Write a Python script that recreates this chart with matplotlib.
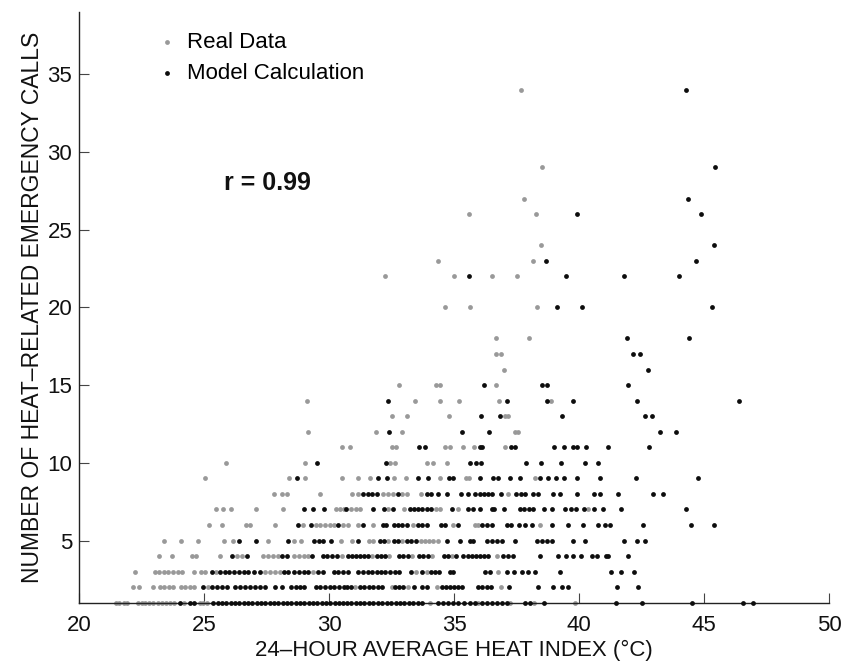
import matplotlib
matplotlib.use("Agg")
import matplotlib.pyplot as plt

plt.rcParams['font.family'] = ['Liberation Sans', 'DejaVu Sans']

# ---------------- data: heat index (x) for each call count (y) ----------------
# Real data (gray)
real_c1 = [21.48, 21.59, 21.80, 21.91, 22.36, 22.50, 22.63, 22.79, 22.96, 23.14, 23.30, 23.46,
           23.63, 23.80, 24.20, 24.83, 24.96, 25.10, 34.03, 35.94, 37.23, 38.21, 39.84]
real_c2 = [22.14, 22.40, 22.96, 23.23, 23.40, 23.59, 23.76, 24.07, 24.23, 24.42, 24.60, 25.14,
           31.03, 32.50, 33.17, 34.30, 36.87]
real_c3 = [22.23, 23.03, 23.20, 23.39, 23.56, 23.75, 23.94, 24.12, 24.60, 24.87, 25.03, 25.46,
           27.43, 27.63, 27.83, 28.03, 29.36, 33.46, 33.90, 36.74]
real_c4 = [23.19, 23.71, 24.50, 24.67, 25.63, 26.30, 26.50, 27.36, 27.56, 27.76, 27.94, 28.60,
           28.79, 28.98, 29.17, 30.50, 31.73, 32.39, 33.30, 34.13, 34.93, 36.70]
real_c5 = [23.40, 24.07, 24.76, 25.80, 26.14, 27.55, 28.59, 28.87, 30.47, 30.93, 31.59, 31.77,
           32.34, 32.90, 33.67, 33.83, 33.99, 34.17, 34.37]
real_c6 = [25.18, 25.72, 26.66, 26.82, 27.82, 28.96, 29.46, 29.65, 29.83, 30.02, 30.21, 30.57,
           30.77, 31.14, 31.77, 33.37, 34.97, 35.83, 35.97, 38.44]
real_c7 = [25.46, 25.74, 26.06, 27.06, 28.16, 30.26, 30.43, 30.61, 30.87, 31.06, 31.23, 32.37,
           33.01, 34.26, 34.43, 35.17, 40.37]
real_c8 = [27.79, 28.10, 28.32, 29.65, 30.90, 31.14, 32.17, 32.37, 32.57, 32.93, 33.10, 33.67, 37.17]
real_c9 = [25.05, 28.38, 29.05, 30.50, 31.15, 31.64, 32.60, 33.07, 34.45, 35.49, 35.60, 38.23]
real_c10 = [25.88, 29.05, 32.45, 32.62, 33.91, 34.17, 34.72]
real_c11 = [30.52, 30.85, 32.50, 32.69, 34.64, 34.83, 35.35, 35.79, 37.03]
real_c12 = [29.16, 31.86, 32.92, 37.42, 37.55]
real_c13 = [32.52, 33.10, 34.79, 37.04, 37.16]
real_c14 = [29.13, 33.42, 34.42, 35.21, 36.78, 38.86]
real_c15 = [32.81, 34.29, 34.42, 36.67]
real_c16 = [37.01]
real_c17 = [36.68, 36.89]
real_c18 = [36.66, 37.99]
real_c20 = [34.65, 35.62, 38.33]
real_c22 = [32.22, 34.98, 36.51, 37.52]
real_c23 = [34.37, 38.17]
real_c24 = [38.46]
real_c26 = [35.59, 38.28]
real_c27 = [37.81]
real_c29 = [38.50]
real_c34 = [37.67]

# Model calculation (black)
model_c1 = [24.03, 24.43, 24.60,
            25.36, 25.54, 25.71, 25.88, 26.06, 26.23, 26.40, 26.58, 26.75, 26.92, 27.10, 27.27,
            27.44, 27.62, 27.79, 27.96, 28.14, 28.31, 28.48, 28.66, 28.83, 29.00, 29.18, 29.35,
            29.52, 29.70, 29.87, 30.05, 30.22, 30.39, 30.57,
            30.70, 30.87, 31.06, 31.23, 31.41, 31.59, 31.77, 31.94, 32.13, 32.30, 32.47, 32.66,
            32.83, 33.01, 33.19, 33.37, 33.54, 33.73,
            34.34, 34.57, 34.74, 34.97, 35.17, 35.41, 35.63, 35.83, 36.10, 36.30, 36.50, 36.70,
            36.90, 37.10, 37.84, 38.03, 38.61, 41.48, 42.53, 44.50, 46.57, 46.97]
model_c2 = [24.96, 25.32, 25.51, 25.70, 25.90, 26.23, 26.43, 26.63, 26.83, 27.03, 27.23, 27.43,
            27.83, 28.10, 28.47, 28.66, 28.83, 29.00, 29.46, 29.65, 29.83, 30.02, 30.21, 30.39,
            30.58, 30.70, 30.87, 31.23, 31.41, 31.59, 31.77, 31.94, 32.13, 32.63, 32.79, 32.97,
            33.41, 33.70, 33.90, 34.50, 34.66, 34.83, 35.01, 35.17, 35.33, 35.97, 36.13, 36.30,
            36.48, 37.19, 38.37, 38.97, 39.30, 39.54, 41.50, 42.37]
model_c3 = [25.30, 25.63, 25.83, 26.00, 26.20, 26.39, 26.58, 26.76, 26.99, 27.23, 28.18, 28.36,
            28.60, 28.79, 28.98, 29.17, 29.56, 29.77, 30.18, 30.37, 30.57, 30.77, 31.17, 31.37,
            31.54, 31.70, 31.90, 32.07, 32.23, 32.43, 32.63, 32.79, 33.27, 33.73, 34.07, 34.23,
            34.39, 34.83, 34.97, 36.23, 36.43, 37.10, 37.41, 37.70, 37.94, 38.24, 39.24, 41.28,
            41.66, 42.18]
model_c4 = [26.10, 26.72, 28.10, 28.30, 29.33, 29.74, 29.93, 30.11, 30.30, 30.74, 30.90, 31.06,
            31.22, 31.38, 31.54, 31.90, 32.07, 32.23, 32.79, 32.97, 33.14, 33.59, 33.77, 33.94,
            34.61, 34.77, 35.06, 35.37, 35.54, 35.70, 35.86, 36.03, 36.21, 36.37, 36.97, 37.17,
            37.37, 38.44, 39.17, 39.46, 39.77, 40.08, 40.53, 40.70, 41.08, 41.17, 41.97]
model_c5 = [26.39, 27.08, 28.36, 29.39, 29.59, 29.77, 30.06, 31.14, 32.03, 32.21, 32.61, 32.77,
            33.10, 33.27, 33.46, 34.70, 35.23, 35.63, 35.77, 36.30, 36.50, 36.70, 36.90, 37.43,
            38.30, 38.50, 38.70, 38.90, 39.74, 40.24, 41.80, 42.30, 42.64]
model_c6 = [28.76, 29.27, 30.37, 31.37, 32.17, 32.26, 32.61, 32.77, 32.93, 33.10, 33.54, 33.73,
            33.90, 34.47, 34.63, 35.14, 36.13, 36.30, 36.50, 37.10, 37.27, 37.60, 37.83, 38.13,
            38.90, 39.54, 40.17, 40.77, 41.04, 41.24, 42.57, 44.48, 45.41]
model_c7 = [29.00, 29.34, 29.78, 30.67, 31.77, 32.21, 32.57, 33.23, 33.41, 33.57, 33.73, 33.90,
            34.07, 34.90, 35.54, 35.77, 36.03, 36.50, 36.61, 37.01, 37.63, 37.81, 37.99, 38.17,
            38.60, 38.90, 39.44, 39.68, 39.88, 40.21, 40.61, 40.97, 41.68, 44.26]
model_c8 = [31.37, 31.54, 31.70, 31.90, 32.77, 33.90, 34.07, 34.37, 34.70, 35.27, 35.54, 35.83,
            36.03, 36.21, 36.37, 36.50, 36.87, 37.46, 37.67, 37.83, 38.17, 38.37, 38.97, 39.24,
            39.90, 40.61, 40.84, 41.57, 42.94, 43.34]
model_c9 = [28.72, 31.96, 32.30, 33.57, 33.97, 34.81, 34.94, 36.05, 36.55, 36.74, 37.25, 37.63,
            38.45, 38.75, 39.07, 39.39, 39.90, 40.83, 42.26, 44.75]
model_c10 = [29.52, 32.28, 35.64, 35.86, 36.09, 37.89, 38.47, 39.26, 40.25, 40.74]
model_c11 = [33.61, 33.82, 36.05, 36.12, 37.29, 37.42, 39.01, 39.39, 39.76, 39.90, 40.29, 41.15, 42.79]
model_c12 = [32.39, 35.32, 36.41, 43.23, 43.87]
model_c13 = [36.07, 36.84, 39.30, 42.62, 42.90]
model_c14 = [32.35, 37.12, 38.73, 39.74, 42.33, 46.39]
model_c15 = [36.18, 38.51, 38.70, 41.96]
model_c16 = [42.77]
model_c17 = [42.14, 42.42]
model_c18 = [41.91, 44.39]
model_c20 = [39.12, 40.10, 45.31]
model_c22 = [35.59, 39.47, 41.78, 43.99]
model_c23 = [38.68, 44.66]
model_c24 = [45.40]
model_c26 = [39.93, 44.86]
model_c27 = [44.34]
model_c29 = [45.43]
model_c34 = [44.28]

x_ticks = [20, 25, 30, 35, 40, 45, 50]
y_ticks = [5, 10, 15, 20, 25, 30, 35]
series_labels = ["Real Data", "Model Calculation"]
r_text = "r = 0.99"

# ---------------- assemble ----------------
g = globals()
def collect(prefix):
    xs, ys = [], []
    for c in range(1, 40):
        name = f"{prefix}_c{c}"
        if name in g:
            xs.extend(g[name])
            ys.extend([c] * len(g[name]))
    return xs, ys

real_x, real_y = collect("real")
model_x, model_y = collect("model")

fig = plt.figure(figsize=(8.58, 6.63), dpi=100)
ax = fig.add_axes([79.3 / 858, 60.3 / 663, 749.7 / 858, 590.7 / 663])

gray = '#999999'
black = '#0d0d0d'
ax.scatter(real_x, real_y, s=12, c=gray, linewidths=0, clip_on=False, zorder=2, label=series_labels[0])
ax.scatter(model_x, model_y, s=12, c=black, linewidths=0, clip_on=False, zorder=3, label=series_labels[1])

ax.set_xlim(20, 50)
ax.set_ylim(1, 39)
ax.set_xticks(x_ticks)
ax.set_yticks(y_ticks)

for s in ['top', 'right']:
    ax.spines[s].set_visible(False)
for s in ['left', 'bottom']:
    ax.spines[s].set_color('#222222')
    ax.spines[s].set_linewidth(1.0)

ax.tick_params(direction='in', length=7, width=0.8, color='#444444', labelsize=16,
               labelcolor='#111111')
ax.tick_params(axis='x', pad=9)
ax.tick_params(axis='y', pad=5)

ax.set_xlabel("24–HOUR AVERAGE HEAT INDEX (°C)", fontsize=16, color='#111111')
ax.set_ylabel("NUMBER OF HEAT–RELATED EMERGENCY CALLS", fontsize=16.5, color='#111111')
ax.xaxis.set_label_coords(0.5, -0.063)
ax.yaxis.set_label_coords(-0.047, 0.5)

leg = ax.legend(loc='upper left', bbox_to_anchor=(0.102, 0.966), frameon=False,
                fontsize=16, handlelength=1.0, handletextpad=0.4, borderpad=0,
                borderaxespad=0, labelspacing=0.43, scatterpoints=1, markerscale=1.0)

ax.text(25.79, 27.55, r_text, fontsize=18, fontweight='bold', va='baseline', ha='left',
        color='#111111')

fig.savefig("out.png", dpi=100)
